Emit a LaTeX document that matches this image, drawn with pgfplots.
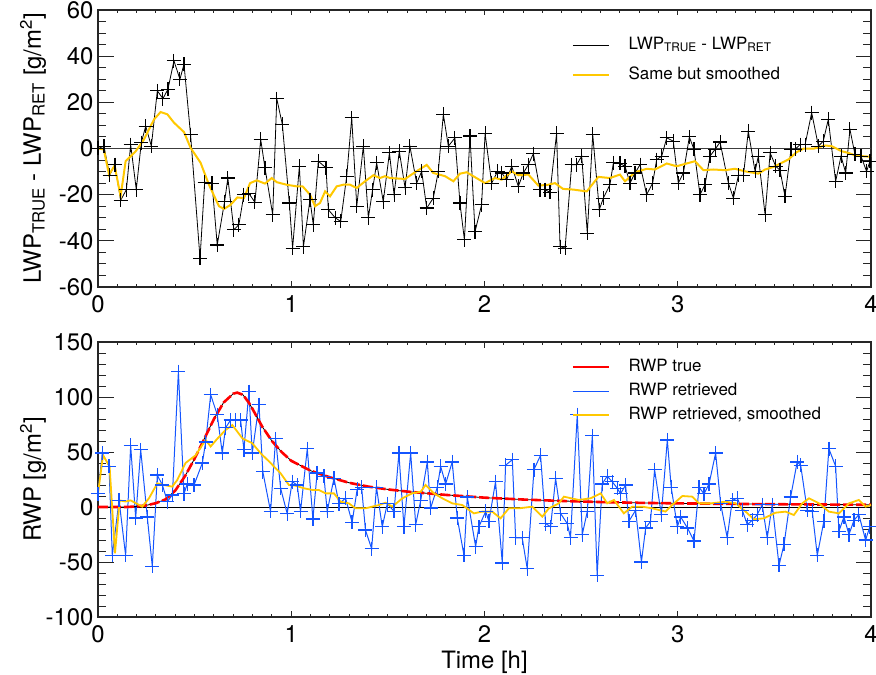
\documentclass[border=0pt]{standalone}
\usepackage{fontspec}
\setmainfont{TeX Gyre Heros}
\usepackage{pgfplots}
\pgfplotsset{compat=1.18}
\definecolor{myyellow}{RGB}{255,200,0}
\definecolor{myblue}{RGB}{20,85,255}
\definecolor{myred}{RGB}{255,0,0}
\definecolor{zeroline}{RGB}{60,60,60}
\pgfplotsset{myaxis/.style={
  scale only axis, width=773bp, xmin=0, xmax=4,
  xtick={0,1,2,3,4}, minor x tick num=9,
  /pgf/number format/assume math mode=true,
  tick label style={font=\fontsize{24}{28}\selectfont},
  label style={font=\fontsize{24}{28}\selectfont},
  axis line style={line width=1.2bp, black!85},
  xtick style={line width=1bp, black!85, /pgfplots/major tick length=5.5bp},
  minor x tick style={line width=1bp, black!85, /pgfplots/minor tick length=3bp},
  ytick style={line width=1bp, black!85, /pgfplots/major tick length=15.5bp},
  minor y tick style={line width=1bp, black!85, /pgfplots/minor tick length=7.7bp},
  xticklabel style={yshift=-5bp},
  yticklabel style={xshift=-1bp},
  y label style={at={(axis description cs:-0.084,0.5)}, anchor=center},
  legend cell align=left,
  legend style={draw=none, fill=none, font=\fontsize{17}{20}\selectfont, inner sep=0pt,
     nodes={inner sep=0pt, text height=12bp, text depth=4bp}},
  legend image code/.code={\draw[#1] (0bp,0bp) -- (36bp,0bp); \path (55bp,0bp);},
}}
\begin{document}
\begin{tikzpicture}
\path[use as bounding box] (-98bp,-58bp) rectangle (778bp,617bp);
% ---------------- top panel ----------------
\begin{axis}[myaxis, at={(0bp,330bp)}, anchor=south west, height=277bp,
  ymin=-60, ymax=60, ytick={-60,-40,-20,0,20,40,60},
  yticklabels={-60,-40,-20,0,20,40,60}, minor y tick num=3,
  ylabel={LWP\textsubscript{TRUE} - LWP\textsubscript{RET} [g/m\textsuperscript{2}]},
  legend style={at={(axis description cs:0.613,0.9025)}, anchor=north west,
     row sep=14bp}]
\addplot[zeroline, line width=1.8bp, forget plot] coordinates {(0,0) (4,0)};
\addplot[black, line width=0.8bp, mark=+, mark size=7bp, mark options={line width=1.1bp}, forget plot] table {
0.000 0
0.031 1
0.060 -11.6
0.088 -7
0.117 -22.5
0.147 -17.8
0.169 1.7
0.198 -17.8
0.224 2.5
0.247 9.7
0.276 1
0.307 25
0.336 21.6
0.362 25.7
0.393 38
0.424 30
0.445 36.5
0.479 6
0.528 -47.6
0.552 -14.6
0.590 -15
0.617 -41.8
0.655 -23
0.672 -12.8
0.703 -35.2
0.729 -33
0.755 -20
0.781 -19.5
0.812 -23.3
0.842 3.9
0.864 -8.4
0.904 -28.7
0.925 21.6
0.954 10.4
0.990 -23.6
1.007 -43.2
1.042 -7.7
1.063 -42.5
1.097 -22.2
1.114 -33
1.140 -5.5
1.180 -8.4
1.192 -26.5
1.227 -30
1.256 -31.6
1.287 -12
1.313 13.3
1.339 -25
1.373 1
1.399 -30
1.421 -17.8
1.442 -6.2
1.476 -23
1.508 -1.9
1.532 -20
1.559 -1.2
1.589 -17
1.614 1
1.649 -15
1.675 -9.9
1.701 -25.8
1.735 -21.5
1.761 -9.9
1.787 14.8
1.813 1
1.847 4.6
1.873 -23.6
1.896 -39.6
1.925 5.4
1.951 -36
1.985 -24.4
2.003 6.5
2.037 -15
2.068 -9.9
2.089 -10.6
2.115 -13.5
2.141 -7.7
2.175 -16.4
2.201 -10.6
2.227 -7
2.253 -2.2
2.287 -17.8
2.313 -17.8
2.339 -19
2.373 6.5
2.391 -42.5
2.417 -43.2
2.451 -7
2.477 -7
2.503 -3.3
2.532 -36.7
2.560 6.1
2.594 -26.5
2.615 -21.5
2.649 -15.7
2.667 -6.2
2.701 -6.5
2.727 -7.7
2.753 -15
2.779 -10.6
2.805 -7
2.839 -20
2.870 -15
2.891 -4.8
2.917 -3.3
2.943 4.6
2.977 3.2
3.003 -15
3.029 -10.6
3.060 5
3.084 -0.4
3.115 -20
3.141 -15.7
3.167 -3.3
3.193 -0.4
3.219 2.8
3.262 -15
3.288 -21.5
3.314 -11.6
3.340 -11.6
3.365 7.5
3.400 -9.9
3.417 -3.3
3.452 -28.7
3.478 -1.9
3.507 -7.7
3.529 -9.4
3.555 -20.7
3.586 -0.4
3.607 -0.4
3.633 1.7
3.659 1.7
3.693 15.5
3.728 1
3.753 3.2
3.779 12.6
3.817 -14.2
3.845 -3.3
3.869 -10.6
3.891 8.3
3.917 -2.6
3.948 -3.3
3.977 -9.9
3.995 -5.5
};
\addplot[myyellow, line width=2bp, forget plot] table {
0.000 0
0.030 -0.4
0.057 -11.3
0.086 -7.4
0.117 -20.7
0.143 -5.5
0.195 -1.2
0.238 3.9
0.290 12.6
0.324 15.8
0.359 14.8
0.393 11.2
0.445 7.1
0.479 0.3
0.531 -6.2
0.574 -15.7
0.626 -25
0.652 -26.2
0.686 -24.4
0.721 -21.2
0.755 -21.5
0.787 -15
0.821 -13.8
0.864 -15.2
0.899 -12.8
0.925 -14.6
0.976 -15.7
1.028 -16.4
1.059 -16.4
1.097 -20
1.123 -25
1.149 -23.6
1.175 -18.6
1.201 -20.7
1.235 -16.4
1.270 -15.7
1.304 -15.7
1.339 -17.1
1.382 -14.2
1.425 -11.6
1.459 -12.8
1.485 -12
1.511 -12.8
1.589 -13.2
1.640 -10.3
1.701 -7.1
1.735 -10.6
1.796 -12
1.839 -14.2
1.873 -10.9
1.908 -10.3
1.942 -12
2.003 -15
2.054 -12.8
2.089 -13.5
2.141 -9.9
2.175 -11.6
2.227 -11.3
2.279 -16.1
2.330 -15.7
2.365 -15
2.406 -17.5
2.460 -17.8
2.529 -18.6
2.589 -12.3
2.649 -12.8
2.701 -11.3
2.727 -14.2
2.779 -10.3
2.839 -8.8
2.882 -9.1
2.943 -6.5
2.994 -7.7
3.046 -6.5
3.089 -5.5
3.133 -9.4
3.184 -9.1
3.245 -9.4
3.296 -8.8
3.348 -9.9
3.417 -10.9
3.452 -9.1
3.495 -8
3.538 -6.2
3.572 -4.8
3.615 -1.6
3.650 -0.1
3.702 -0.1
3.762 1.3
3.797 1
3.848 -1.2
3.883 -1.9
3.917 -3
3.952 -3.3
4.000 -3.6
};
\addlegendimage{black, line width=1bp}
\addlegendentry{LWP\textsubscript{TRUE} - LWP\textsubscript{RET}}
\addlegendimage{myyellow, line width=1.6bp}
\addlegendentry{Same but smoothed}
\end{axis}
% ---------------- bottom panel ----------------
\begin{axis}[myaxis, at={(0bp,0bp)}, anchor=south west, height=275bp,
  ymin=-100, ymax=150, ytick={-100,-50,0,50,100,150},
  yticklabels={-100,-50,0,50,100,150}, minor y tick num=4,
  xlabel={Time [h]}, x label style={yshift=-1bp},
  ylabel={RWP [g/m\textsuperscript{2}]},
  legend style={at={(axis description cs:0.613,0.938)}, anchor=north west,
     row sep=8bp}]
\addplot[black, line width=0.9bp, forget plot] coordinates {(0,0) (4,0)};
\addplot[myblue, line width=1bp, mark=+, mark size=7bp, mark options={line width=1.3bp}, forget plot] table {
0.000 12
0.022 49
0.057 37
0.074 -44
0.109 6
0.143 -44
0.169 56
0.195 -10
0.221 52
0.255 -9
0.281 -54
0.307 29
0.333 20
0.359 5
0.385 11
0.416 123
0.445 12
0.462 21
0.497 20
0.540 40
0.557 59
0.583 102
0.617 84
0.643 49
0.660 72
0.686 79
0.712 79
0.738 79
0.755 52
0.781 105
0.798 49
0.833 93
0.853 32
0.893 -4
0.919 62
0.945 17
0.979 -6
1.005 23
1.031 20
1.048 -4
1.083 53
1.112 -11
1.134 31
1.169 28
1.186 -4
1.221 26
1.247 3
1.281 8
1.315 -14
1.341 16
1.364 18
1.384 -21
1.416 -38
1.441 18
1.471 -18
1.497 3
1.532 -4
1.557 49
1.583 -18
1.618 49
1.644 -16
1.670 6
1.704 41
1.721 -1
1.756 18
1.773 37
1.799 21
1.833 41
1.859 -10
1.894 -44
1.911 9
1.954 -36
1.971 -18
2.006 -4
2.023 -13
2.057 23
2.092 -51
2.109 38
2.144 43
2.161 -28
2.195 -28
2.221 -56
2.256 34
2.290 47
2.316 -15
2.342 -18
2.368 26
2.394 -6
2.428 -15
2.445 -28
2.480 84
2.506 -25
2.532 -4
2.558 65
2.583 -62
2.609 21
2.635 28
2.661 23
2.687 17
2.704 12
2.730 20
2.747 -13
2.782 -3
2.812 -50
2.834 -19
2.859 -13
2.880 34
2.915 -7
2.946 61
2.966 18
2.998 -18
3.015 -9
3.050 -19
3.084 -31
3.110 18
3.136 12
3.162 21
3.196 49
3.222 3
3.256 -28
3.282 6
3.308 8
3.334 -3
3.360 -16
3.386 -12
3.411 -7
3.437 2
3.463 -28
3.489 2
3.524 -53
3.550 -34
3.584 9
3.618 41
3.636 38
3.670 -3
3.696 -4
3.722 -44
3.756 -13
3.782 53
3.817 37
3.834 -22
3.860 -9
3.886 -25
3.912 -12
3.937 -7
3.972 -30
3.994 -18
};
\addplot[black, line width=0.8bp, forget plot] table {
0.00 0
0.15 0
0.20 0.5
0.25 1.5
0.30 3.5
0.35 7
0.40 15
0.45 28
0.50 44
0.55 62
0.60 80
0.65 95
0.70 103
0.72 104
0.75 102
0.78 95
0.80 89
0.85 73
0.90 60
0.95 50
1.00 42
1.10 33
1.20 27
1.30 22
1.40 18.5
1.50 16
1.60 14
1.80 11
2.00 8.5
2.20 6.8
2.40 5.5
2.60 4.5
2.80 3.8
3.00 3.3
3.30 2.8
3.60 2.4
4.00 2
};
\addplot[myred, line width=2.6bp, dash pattern=on 10bp off 3bp, forget plot] table {
0.00 0
0.15 0
0.20 0.5
0.25 1.5
0.30 3.5
0.35 7
0.40 15
0.45 28
0.50 44
0.55 62
0.60 80
0.65 95
0.70 103
0.72 104
0.75 102
0.78 95
0.80 89
0.85 73
0.90 60
0.95 50
1.00 42
1.10 33
1.20 27
1.30 22
1.40 18.5
1.50 16
1.60 14
1.80 11
2.00 8.5
2.20 6.8
2.40 5.5
2.60 4.5
2.80 3.8
3.00 3.3
3.30 2.8
3.60 2.4
4.00 2
};
\addplot[myyellow, line width=1.8bp, forget plot] table {
0.000 12
0.026 47
0.060 37
0.088 -42
0.112 6
0.143 5
0.169 6
0.229 0.3
0.264 8
0.307 21.5
0.341 20
0.384 18.5
0.410 24.5
0.453 40
0.505 47
0.557 61
0.583 55
0.617 62
0.660 70
0.695 74.5
0.721 68.5
0.747 62.4
0.798 58
0.841 49
0.893 40
0.945 30.6
0.988 20
1.022 19.4
1.066 17
1.109 15.5
1.143 15.5
1.178 12.4
1.221 12.4
1.255 4.8
1.298 3.3
1.333 -1.2
1.384 -1.2
1.419 0.3
1.454 1.8
1.488 3.9
1.523 0.3
1.575 7.9
1.626 12.4
1.670 13.9
1.695 20
1.738 12.4
1.782 7.9
1.833 3.3
1.885 1.8
1.945 -5.8
1.988 -4.2
2.040 -4.2
2.083 -10.3
2.126 -1.2
2.178 -1.2
2.247 0.3
2.299 -8.8
2.333 -1.2
2.385 3.3
2.411 9.4
2.488 6.4
2.549 7.9
2.601 12.4
2.635 3.3
2.670 6.4
2.721 -5.8
2.764 0.3
2.816 0.3
2.868 -1.2
2.937 -4.2
2.971 1.8
3.024 10
3.075 9.4
3.110 3.3
3.170 3.3
3.248 4.8
3.300 3.3
3.351 -4.2
3.394 -11.2
3.446 -10.3
3.506 -5.2
3.558 -4.2
3.601 -7.3
3.644 3.3
3.679 7.9
3.731 3.3
3.782 -4.2
3.834 -5.8
3.886 3.3
3.937 6.4
3.972 0.3
4.000 1.8
};
\addlegendimage{myred, line width=1.6bp}
\addlegendentry{RWP true}
\addlegendimage{myblue, line width=1bp}
\addlegendentry{RWP retrieved}
\addlegendimage{myyellow, line width=1.6bp}
\addlegendentry{RWP retrieved, smoothed}
\end{axis}
\end{tikzpicture}
\end{document}
